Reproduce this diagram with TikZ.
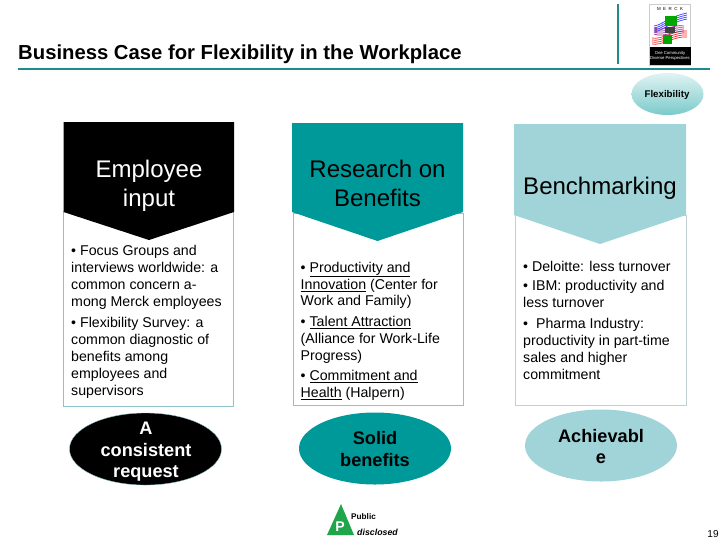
\documentclass[tikz,border=0pt]{standalone}
\usepackage{fontspec}
\setmainfont{Liberation Sans}
\usetikzlibrary{shapes.geometric}
\usetikzlibrary{shadings}

\definecolor{tealdark}{HTML}{009999}
\definecolor{teallight}{HTML}{A0D4D8}
\definecolor{frameline}{HTML}{8FC3CB}
\definecolor{framegray}{HTML}{C0D0D6}
\definecolor{ruleteal}{HTML}{1F8C8C}
\definecolor{pgreen}{HTML}{1FA54A}

\tikzset{
    bodybox/.style={rectangle, draw=frameline, line width=0.7pt, fill=white},
    headtext/.style={align=center, font=\fontsize{20.5}{24.8}\selectfont},
    bodytext/.style={align=left, anchor=north west, inner sep=0pt, font=\fontsize{12.1}{14.5}\selectfont},
    oval/.style={ellipse, inner sep=0pt, minimum width=152*0.03cm, minimum height=72*0.03cm},
    ovaltext/.style={align=center, inner sep=0pt, font=\fontsize{15.5}{18.4}\selectfont\bfseries}
}

\begin{document}
\begin{tikzpicture}[x=0.03cm,y=-0.03cm]
        \useasboundingbox (0,0) rectangle (728,546);

        % title and rules
        \node[anchor=west, inner sep=0pt, font=\fontsize{17.3}{20}\selectfont\bfseries] (title) at (18,54) {Business Case for Flexibility in the Workplace};
        \coordinate (rulea) at (18,69);
        \coordinate (ruleb) at (710,69);
        \draw[ruleteal, line width=1.5pt] (rulea) -- (ruleb);
        \coordinate (rulec) at (618,4);
        \coordinate (ruled) at (618,64);
        \draw[ruleteal, line width=1.5pt] (rulec) -- (ruled);

        % logo
        \node[rectangle, draw=black!20, fill=white, line width=0.3pt, minimum width=41*0.03cm, minimum height=61*0.03cm, inner sep=0pt] (logo) at (670,34.5) {};
        \node[font=\fontsize{3.8}{4}\selectfont] (logoname) at (670,9) {M\ \ E\ \ R\ \ C\ \ K};
        \node[rectangle, fill=black, text=white, minimum width=41*0.03cm, minimum height=18*0.03cm, inner sep=0pt, align=center, font=\fontsize{3.6}{4.6}\selectfont] (logofoot) at (670,56) {One Community\\Diverse Perspectives};
        \foreach \i in {0,2,4,6} {
            \draw[blue!75, line width=0.6pt] (654,26+\i) .. controls (662,25+\i) and (668,17+\i) .. (687,13+\i);
            \draw[violet!85, line width=0.6pt] (654,28+\i) .. controls (664,32+\i) and (674,24+\i) .. (684,26+\i);
            \draw[red!85, line width=0.6pt] (652,38+\i) .. controls (662,40+\i) and (674,30+\i) .. (687,31+\i);
        }
        \fill[green!65!black] (665,16) rectangle (677,26);
        \fill[black!75] (665,27) rectangle (675,33);
        \fill[green!65!black] (663,35) rectangle (672,44);

        % flexibility tag
        \shade[top color=tealdark!12, middle color=tealdark!28, bottom color=tealdark!52] (667.5,94) ellipse (36 and 21);
        \node[font=\fontsize{8.3}{10}\selectfont\bfseries] (flex) at (667,95) {Flexibility};

        % employee column
        \node[bodybox, minimum width=170*0.03cm, minimum height=195*0.03cm] (b1) at (148,308.5) {};
        \fill[black] (63.5,122) -- (234,122) -- (234,212) -- (149,240) -- (63.5,212) -- cycle;
        \node[headtext, text=white] (h1) at (149,185.5) {Employee\\input};
        \node[bodytext] (t1) at (71,245) {\textbullet\ Focus Groups and\\interviews worldwide: a\\common concern a-\\mong Merck employees};
        \node[bodytext] (t1b) at (71,317) {\textbullet\ Flexibility Survey: a\\common diagnostic of\\benefits among\\employees and\\supervisors};
        \node[oval, fill=black, draw=frameline, line width=0.3pt] (o1) at (145.5,449) {};
        \node[ovaltext, text=white] (o1t) at (146,452) {A\\consistent\\request};

        % research column
        \node[bodybox, minimum width=170*0.03cm, minimum height=192*0.03cm] (b2) at (378,309) {};
        \fill[tealdark] (292,123) -- (463,123) -- (463,212) -- (377.5,241) -- (292,212) -- cycle;
        \node[headtext] (h2) at (377.5,183.5) {Research on\\Benefits};
        \node[bodytext] (t2) at (300.5,261.5) {\textbullet\ \underline{Productivity and}\\\underline{Innovation} (Center for\\Work and Family)};
        \node[bodytext] (t2b) at (300.5,316) {\textbullet\ \underline{Talent Attraction}\\(Alliance for Work-Life\\Progress)};
        \node[bodytext] (t2c) at (300.5,370) {\textbullet\ \underline{Commitment and}\\\underline{Health} (Halpern)};
        \node[oval, fill=tealdark] (o2) at (375,448.5) {};
        \node[ovaltext] (o2t) at (375,449) {Solid\\benefits};

        % benchmarking column
        \node[bodybox, draw=framegray, minimum width=171*0.03cm, minimum height=190*0.03cm] (b3) at (600.5,310) {};
        \fill[teallight] (514,124) -- (686,124) -- (686,215) -- (600,244) -- (514,215) -- cycle;
        \node[headtext] (h3) at (600,188) {Benchmarking};
        \node[bodytext] (t3) at (523,261) {\textbullet\ Deloitte: less turnover};
        \node[bodytext] (t3b) at (523,280) {\textbullet\ IBM: productivity and\\less turnover};
        \node[bodytext] (t3c) at (523,318) {\textbullet\ \ Pharma Industry:\\productivity in part-time\\sales and higher\\commitment};
        \node[oval, fill=teallight] (o3) at (601,445.5) {};
        \node[ovaltext] (o3t) at (601,446.5) {Achievabl\\e};

        % public stamp
        \fill[pgreen] (341,504) -- (327,535) -- (354,535) -- cycle;
        \node[text=white, inner sep=0pt, font=\fontsize{12}{12}\selectfont\bfseries] (stamp) at (340,527) {P};
        \node[anchor=west, inner sep=0pt, font=\fontsize{7}{8}\selectfont\bfseries] (pub) at (351,517) {Public};
        \node[anchor=west, inner sep=0pt, font=\fontsize{7.5}{9}\selectfont\bfseries\itshape] (dis) at (357,532) {disclosed};

        \node[font=\fontsize{8.6}{10}\selectfont] (page) at (713,534) {19};
\end{tikzpicture}
\end{document}
